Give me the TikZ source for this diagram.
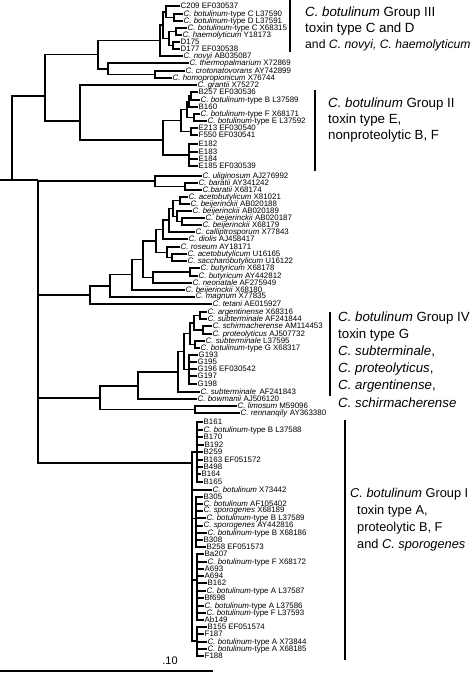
\documentclass[tikz,border=0pt]{standalone}
\usepackage{fontspec}
\setmainfont{Liberation Sans}
\begin{document}
\begin{tikzpicture}[x=1pt,y=-1pt,
  br/.style={line width=1.5pt},
  leaf/.style={anchor=west,inner sep=0.5pt,font=\fontsize{7.9}{8}\selectfont},
  grp/.style={anchor=west,inner sep=0pt,font=\fontsize{13.3}{13}\selectfont},
  bar/.style={line width=1.5pt}]
\useasboundingbox (0,0) rectangle (474,678);
\newcommand{\Ci}[1]{\textit{C. #1}}
% ---------- leaves ----------
\node[leaf] (L1) at (180,6) {C209 EF030537};
\node[leaf] (L2) at (183,14) {\Ci{botulinum}-type C L37590};
\node[leaf] (L3) at (183,21) {\Ci{botulinum}-type D L37591};
\node[leaf] (L4) at (187,28) {\Ci{botulinum}-type C X68315};
\node[leaf] (L5) at (182,35) {\Ci{haemolyticum} Y18173};
\node[leaf] (L6) at (180,42) {D175};
\node[leaf] (L7) at (180,49) {D177 EF030538};
\node[leaf] (L8) at (183,56) {\Ci{novyi} AB035087};
\node[leaf] (L9) at (189,63) {\Ci{thermopalmarium} X72869};
\node[leaf] (L10) at (185,71) {\Ci{crotonatovorans} AY742899};
\node[leaf] (L11) at (172,78) {\Ci{homopropionicum} X76744};
\node[leaf] (L12) at (197,85) {\Ci{grantii} X75272};
\node[leaf] (L13) at (198,92) {B257 EF030536};
\node[leaf] (L14) at (200,100) {\Ci{botulinum}-type B L37589};
\node[leaf] (L15) at (198,107) {B160};
\node[leaf] (L16) at (200,114) {\Ci{botulinum}-type F X68171};
\node[leaf] (L17) at (207,121) {\Ci{botulinum}-type E L37592};
\node[leaf] (L18) at (198,128) {E213 EF030540};
\node[leaf] (L19) at (198,135) {F550 EF030541};
\node[leaf] (L20) at (198,144) {E182};
\node[leaf] (L21) at (198,152) {E183};
\node[leaf] (L22) at (198,159) {E184};
\node[leaf] (L23) at (198,166) {E185 EF030539};
\node[leaf] (L24) at (202,176) {\Ci{uliginosum} AJ276992};
\node[leaf] (L25) at (198,183) {\Ci{baratii} AY341242};
\node[leaf] (L26) at (202,190) {\textit{C.baratii} X68174};
\node[leaf] (L27) at (188,197) {\Ci{acetobutylicum} X81021};
\node[leaf] (L28) at (190,204) {\Ci{beijerinckii} AB020188};
\node[leaf] (L29) at (192,211) {\Ci{beijerinckii} AB020189};
\node[leaf] (L30) at (205,218) {\Ci{beijerinckii} AB020187};
\node[leaf] (L31) at (202,225) {\Ci{beijerinckii} X68179};
\node[leaf] (L32) at (195,232) {\Ci{calliptrosporum} X77843};
\node[leaf] (L33) at (188,239) {\Ci{diolis} AJ458417};
\node[leaf] (L34) at (180,247) {\Ci{roseum} AY18171};
\node[leaf] (L35) at (187,254) {\Ci{acetobutylicum} U16165};
\node[leaf] (L36) at (187,261) {\Ci{saccharobutylicum} U16122};
\node[leaf] (L37) at (200,268) {\Ci{butyricum} X68178};
\node[leaf] (L38) at (198,276) {\Ci{butyricum} AY442812};
\node[leaf] (L39) at (192,283) {\Ci{neonatale} AF275949};
\node[leaf] (L40) at (185,290) {\Ci{beijerinckii} X68180};
\node[leaf] (L41) at (195,297) {\Ci{magnum} X77835};
\node[leaf] (L42) at (212,304) {\Ci{tetani} AE015927};
\node[leaf] (L43) at (207,312) {\Ci{argentinense} X68316};
\node[leaf] (L44) at (207,319) {\Ci{subterminale} AF241844};
\node[leaf] (L45) at (212,326) {\Ci{schirmacherense} AM114453};
\node[leaf] (L46) at (212,334) {\Ci{proteolyticus} AJ507732};
\node[leaf] (L47) at (205,341) {\Ci{subterminale} L37595};
\node[leaf] (L48) at (200,348) {\Ci{botulinum}-type G X68317};
\node[leaf] (L49) at (198,355) {G193};
\node[leaf] (L50) at (197,362) {G195};
\node[leaf] (L51) at (197,369) {G196 EF030542};
\node[leaf] (L52) at (197,376) {G197};
\node[leaf] (L53) at (197,384) {G198};
\node[leaf] (L54) at (200,392) {\Ci{subterminale}\, AF241843};
\node[leaf] (L55) at (197,399) {\Ci{bowmanii} AJ506120};
\node[leaf] (L56) at (237,406) {\Ci{limosum} M59096};
\node[leaf] (L57) at (240,413) {\Ci{rennanqily} AY363380};
\node[leaf] (L58) at (203,422) {B161};
\node[leaf] (L59) at (203,430) {\Ci{botulinum}-type B L37588};
\node[leaf] (L60) at (203,437) {B170};
\node[leaf] (L61) at (204,445) {B192};
\node[leaf] (L62) at (203,452) {B259};
\node[leaf] (L63) at (203,460) {B163 EF051572};
\node[leaf] (L64) at (203,467) {B498};
\node[leaf] (L65) at (201,474) {B164};
\node[leaf] (L66) at (203,482) {B165};
\node[leaf] (L67) at (212,490) {\Ci{botulinum} X73442};
\node[leaf] (L68) at (203,497) {B305};
\node[leaf] (L69) at (203,504) {\Ci{botulinum} AF105402};
\node[leaf] (L70) at (203,511) {\Ci{sporogenes} X68189};
\node[leaf] (L71) at (206,518) {\Ci{botulinum}-type B L37589};
\node[leaf] (L72) at (203,526) {\Ci{sporogenes} AY442816};
\node[leaf] (L73) at (207,533) {\Ci{botulinum}-type B X68186};
\node[leaf] (L74) at (203,540) {B308};
\node[leaf] (L75) at (206,547) {B258 EF051573};
\node[leaf] (L76) at (204,554) {Ba207};
\node[leaf] (L77) at (207,562) {\Ci{botulinum}-type F X68172};
\node[leaf] (L78) at (204,569) {A693};
\node[leaf] (L79) at (204,576) {A694};
\node[leaf] (L80) at (207,583) {B162};
\node[leaf] (L81) at (206,591) {\Ci{botulinum}-type A L37587};
\node[leaf] (L82) at (204,598) {Bf698};
\node[leaf] (L83) at (204,606) {\Ci{botulinum}-type A L37586};
\node[leaf] (L84) at (206,613) {\Ci{botulinum}-type F L37593};
\node[leaf] (L85) at (204,620) {Ab149};
\node[leaf] (L86) at (207,627) {B155 EF051574};
\node[leaf] (L87) at (204,634) {F187};
\node[leaf] (L88) at (207,642) {\Ci{botulinum}-type A X73844};
\node[leaf] (L89) at (207,649) {\Ci{botulinum}-type A X68185};
\node[leaf] (L90) at (204,656) {F188};
% ---------- internal nodes ----------
\coordinate (c1) at (174,17.5);
\coordinate (c2) at (166,11.75);
\coordinate (c3) at (176,31.5);
\coordinate (c4) at (173,45.5);
\coordinate (c5) at (169,38.5);
\coordinate (c6) at (163,25);
\coordinate (c7) at (160,40.5);
\coordinate (c8) at (155,74.5);
\coordinate (c9) at (108,68.75);
\coordinate (c10) at (98,54.6);
\coordinate (c12) at (191,96);
\coordinate (c13) at (189,101.5);
\coordinate (c14) at (194,117.5);
\coordinate (c15) at (187,109.5);
\coordinate (c16) at (191,131.5);
\coordinate (c17) at (181,120.5);
\coordinate (c18) at (189,155);
\coordinate (c19) at (163,140);
\coordinate (g2n) at (80,121);
\coordinate (T) at (45,96);
\coordinate (c21) at (185,186.5);
\coordinate (c22) at (155,181);
\coordinate (c23) at (180,200.5);
\coordinate (c24) at (182,221.5);
\coordinate (c25) at (177,216.25);
\coordinate (c26) at (173,208.4);
\coordinate (c27) at (169,220.2);
\coordinate (c28) at (163,229.6);
\coordinate (c29) at (172,257.5);
\coordinate (c30) at (167,252.25);
\coordinate (c31) at (156,241);
\coordinate (c32) at (190,272);
\coordinate (c33) at (153,277.5);
\coordinate (c34) at (143,259.3);
\coordinate (c35) at (132,274.7);
\coordinate (c36) at (110,285.8);
\coordinate (c36b) at (90,295);
\coordinate (c38) at (200,315.5);
\coordinate (c39) at (203,330);
\coordinate (c40) at (194,322.75);
\coordinate (c41) at (195,344.5);
\coordinate (c42) at (190,333.6);
\coordinate (c43) at (189,369.5);
\coordinate (c44) at (184,351.5);
\coordinate (c45) at (178,372);
\coordinate (c46) at (138,386);
\coordinate (c47) at (195,409.5);
\coordinate (b5) at (100,398);
\coordinate (g1) at (197,452);
\coordinate (g2) at (196,518.5);
\coordinate (g3) at (197,580);
\coordinate (g4) at (197,641);
\coordinate (gI) at (192,463);
\coordinate (B) at (38,180);
\coordinate (R) at (12,180);
\coordinate (r0) at (0,180);
% ---------- branches ----------
\begin{scope}[br]
\draw (c1) |- (L2.west) (c1) |- (L3.west);
\draw (c2) |- (L1.west) (c2) |- (c1);
\draw (c3) |- (L4.west) (c3) |- (L5.west);
\draw (c4) |- (L6.west) (c4) |- (L7.west);
\draw (c5) |- (c3) (c5) |- (c4);
\draw (c6) |- (c2) (c6) |- (c5);
\draw (c7) |- (c6) (c7) |- (L8.west);
\draw (c8) |- (L10.west) (c8) |- (L11.west);
\draw (c9) |- (L9.west) (c9) |- (c8);
\draw (c10) |- (c7) (c10) |- (c9);
\draw (c12) |- (L13.west) (c12) |- (L14.west);
\draw (c13) |- (c12) (c13) |- (L15.west);
\draw (c14) |- (L16.west) (c14) |- (L17.west);
\draw (c15) |- (c13) (c15) |- (c14);
\draw (c16) |- (L18.west) (c16) |- (L19.west);
\draw (c17) |- (c15) (c17) |- (c16);
\foreach \k in {20,...,23} \draw (c18) |- (L\k.west);
\draw (c19) |- (c17) (c19) |- (c18);
\draw (g2n) |- (L12.west) (g2n) |- (c19);
\draw (T) |- (c10) (T) |- (g2n);
\draw (c21) |- (L25.west) (c21) |- (L26.west);
\draw (c22) |- (L24.west) (c22) |- (c21);
\draw (c23) |- (L27.west) (c23) |- (L28.west);
\draw (c24) |- (L30.west) (c24) |- (L31.west);
\draw (c25) |- (L29.west) (c25) |- (c24);
\draw (c26) |- (c23) (c26) |- (c25);
\draw (c27) |- (c26) (c27) |- (L32.west);
\draw (c28) |- (c27) (c28) |- (L33.west);
\draw (c29) |- (L35.west) (c29) |- (L36.west);
\draw (c30) |- (L34.west) (c30) |- (c29);
\draw (c31) |- (c28) (c31) |- (c30);
\draw (c32) |- (L37.west) (c32) |- (L38.west);
\draw (c33) |- (c32) (c33) |- (L39.west);
\draw (c34) |- (c31) (c34) |- (c33);
\draw (c35) |- (c34) (c35) |- (L40.west);
\draw (c36) |- (c35) (c36) |- (L41.west);
\draw (c36b) |- (c36) (c36b) |- (L42.west);
\draw (c38) |- (L43.west) (c38) |- (L44.west);
\draw (c39) |- (L45.west) (c39) |- (L46.west);
\draw (c40) |- (c38) (c40) |- (c39);
\draw (c41) |- (L47.west) (c41) |- (L48.west);
\draw (c42) |- (c40) (c42) |- (c41);
\foreach \k in {49,...,53} \draw (c43) |- (L\k.west);
\draw (c44) |- (c42) (c44) |- (c43);
\draw (c45) |- (c44) (c45) |- (L54.west);
\draw (c46) |- (c45) (c46) |- (L55.west);
\draw (c47) |- (L56.west) (c47) |- (L57.west);
\draw (b5) |- (c46) (b5) |- (c47);
\foreach \k in {58,...,66} \draw (g1) |- (L\k.west);
\foreach \k in {68,...,75} \draw (g2) |- (L\k.west);
\foreach \k in {76,...,85} \draw (g3) |- (L\k.west);
\foreach \k in {86,...,90} \draw (g4) |- (L\k.west);
\draw (gI) |- (g1) (gI) |- (L67.west) (gI) |- (g2) (gI) |- (g3) (gI) |- (g4);
\draw (B) |- (c22) (B) |- (c36b) (B) |- (b5) (B) |- (gI);
\draw (R) |- (T) (R) -- (B);
\draw (r0) -- (R);
\end{scope}
% ---------- group labels ----------
\draw[bar] (290,0) -- (290,52);
\node[grp] (G3a) at (305,13) {\textit{C. botulinum} Group III};
\node[grp] (G3b) at (305,29) {toxin type C and D};
\node[grp,font=\fontsize{12.2}{13}\selectfont] (G3c) at (305,45) {and \textit{C. novyi, C. haemolyticum}};
\draw[bar] (315,90) -- (315,171);
\node[grp] (G2a) at (328,104) {\textit{C. botulinum} Group II};
\node[grp] (G2b) at (328,120) {toxin type E,};
\node[grp] (G2c) at (328,136) {nonproteolytic B, F};
\draw[bar] (330,312) -- (330,396);
\node[grp] (G4a) at (338,318) {\textit{C. botulinum} Group IV};
\node[grp] (G4b) at (338,335) {toxin type G};
\node[grp] (G4c) at (338,352) {\textit{C. subterminale},};
\node[grp] (G4d) at (338,369) {\textit{C. proteolyticus},};
\node[grp] (G4e) at (338,386) {\textit{C. argentinense},};
\node[grp] (G4f) at (338,403) {\textit{C. schirmacherense}};
\draw[bar] (345,420) -- (345,660);
\node[grp,font=\fontsize{12.8}{13}\selectfont] (G1a) at (350,494) {\textit{C. botulinum} Group I};
\node[grp,font=\fontsize{12.8}{13}\selectfont] (G1b) at (357,511) {toxin type A,};
\node[grp,font=\fontsize{12.8}{13}\selectfont] (G1c) at (357,528) {proteolytic B, F};
\node[grp,font=\fontsize{12.8}{13}\selectfont] (G1d) at (357,545) {and \textit{C. sporogenes}};
% ---------- scale bar ----------
\coordinate (s0) at (0,671);
\coordinate (s1) at (213,671);
\draw[line width=1.5pt] (s0) -- (s1);
\node[inner sep=0pt,font=\fontsize{11}{11}\selectfont] (sl) at (170,661) {.10};
\end{tikzpicture}
\end{document}
